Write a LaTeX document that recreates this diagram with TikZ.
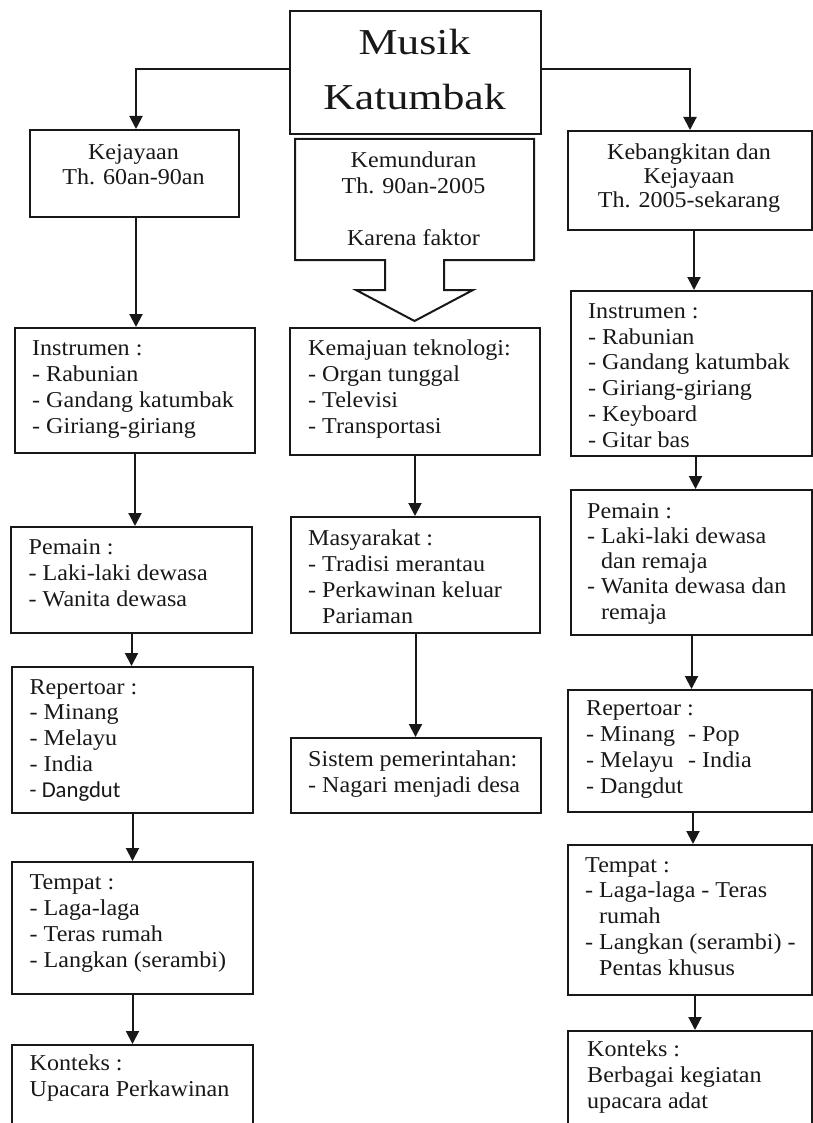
\documentclass[tikz,border=0pt]{standalone}
\usepackage{fontspec}
\setmainfont{Liberation Serif}[FakeStretch=1.06]
\newfontfamily\titlefont{Liberation Serif}[FakeStretch=1.2]
\newfontfamily\califont{Carlito}
\usetikzlibrary{arrows.meta}
\definecolor{ink}{RGB}{24,24,24}
\newcommand\bodysize{\fontsize{22.7}{25.7}\selectfont}
\newcommand\subindent{\hspace*{14pt}}
\newcommand\tabcol[1]{\makebox[102pt][l]{#1}}
\tikzset{>={Triangle[length=13pt,width=13pt]}}

\begin{document}
\begin{tikzpicture}[x=1pt,y=-1pt,
  boxframe/.style={draw=ink,line width=2pt,anchor=north west,inner sep=0pt},
  body/.style={ink,font=\bodysize,align=left,anchor=base west,inner sep=0pt},
  heading/.style={ink,font=\bodysize,align=center,anchor=base,inner sep=0pt},
  link/.style={->,draw=ink,line width=2pt}]
  \useasboundingbox (0,0) rectangle (812,1123);
  % text nodes are placed at the baseline of their last line

  % Title
  \node[boxframe,minimum width=251pt,minimum height=123pt] (musik) at (289,10) {};
  \node[heading,font=\titlefont\fontsize{36.5}{55}\selectfont] (musikt)
    at (414.5,110) {Musik\\Katumbak};

  % Three periods
  \node[boxframe,minimum width=209pt,minimum height=87pt] (kejayaan) at (29,129) {};
  \node[heading] (kejayaant) at (133.5,185) {Kejayaan\\Th. 60an-90an};

  \node[boxframe,draw=none,minimum width=237pt,minimum height=119pt] (kemunduran) at (295,139) {};
  \node[heading] (kemundurant) at (413.5,245)
    {Kemunduran\\Th. 90an-2005\\[25.7pt]Karena faktor};
  \draw[ink,line width=2pt,line join=miter]
    (kemunduran.south west) |- (kemunduran.north east)
    |- ([xshift=29.5pt]kemunduran.south) -- ++(0,30) -- ++(29,0)
    -- ++(-58.5,31) -- ++(-58.5,-31) -- ++(29,0) -- ++(0,-30) -- cycle;

  \node[boxframe,minimum width=244pt,minimum height=99pt] (kebangkitan) at (567,130) {};
  \node[heading,font=\fontsize{22.7}{24}\selectfont] (kebangkitant) at (689,208)
    {Kebangkitan dan\\Kejayaan\\Th. 2005-sekarang};

  \draw[link] ([yshift=3.5pt]musik.west) -| ([xshift=1.5pt]kejayaan.north);
  \draw[link] ([yshift=3.5pt]musik.east) -| (kebangkitan.north);

  % Left column
  \node[boxframe,minimum width=240pt,minimum height=125pt] (instrL) at (14,327) {};
  \node[body] (instrLt) at (32,433)
    {Instrumen :\\- Rabunian\\- Gandang katumbak\\- Giriang-giriang};
  \node[boxframe,minimum width=241pt,minimum height=106pt] (pemainL) at (10,526) {};
  \node[body] (pemainLt) at (28.5,606)
    {Pemain :\\- Laki-laki dewasa\\- Wanita dewasa};
  \node[boxframe,minimum width=241pt,minimum height=146pt] (repL) at (11,666) {};
  \node[body] (repLt) at (29.5,797)
    {Repertoar :\\- Minang\\- Melayu\\- India\\{\califont - Dangdut}};
  \node[boxframe,minimum width=241pt,minimum height=132pt] (tempatL) at (11,861) {};
  \node[body] (tempatLt) at (29.5,967)
    {Tempat :\\- Laga-laga\\- Teras rumah\\- Langkan (serambi)};
  \node[boxframe,minimum width=241pt,minimum height=100pt] (kontL) at (11,1044) {};
  \node[body] (kontLt) at (29.5,1096) {Konteks :\\Upacara Perkawinan};

  \draw[link] ([xshift=1.5pt]kejayaan.south) -- ([xshift=1.5pt]kejayaan.south |- instrL.north);
  \draw[link] (instrL.south) -- (instrL.south |- pemainL.north);
  \draw[link] (pemainL.south) -- (pemainL.south |- repL.north);
  \draw[link] (repL.south) -- (repL.south |- tempatL.north);
  \draw[link] (tempatL.south) -- (tempatL.south |- kontL.north);

  % Middle column
  \node[boxframe,minimum width=250pt,minimum height=127pt] (kemajuan) at (289,327) {};
  \node[body] (kemajuant) at (308,433)
    {Kemajuan teknologi:\\- Organ tunggal\\- Televisi\\- Transportasi};
  \node[boxframe,minimum width=249pt,minimum height=116pt] (masyarakat) at (290,516) {};
  \node[body] (masyarakatt) at (308,623)
    {Masyarakat :\\- Tradisi merantau\\- Perkawinan keluar\\\subindent Pariaman};
  \node[boxframe,minimum width=250pt,minimum height=75pt] (sistem) at (290,737) {};
  \node[body] (sistemt) at (308,792)
    {Sistem pemerintahan:\\- Nagari menjadi desa};

  \draw[link] (kemajuan.south) -- (kemajuan.south |- masyarakat.north);
  \draw[link] (masyarakat.south) -- (masyarakat.south |- sistem.north);

  % Right column
  \node[boxframe,minimum width=241pt,minimum height=165pt] (instrR) at (570,290) {};
  \node[body] (instrRt) at (588,447)
    {Instrumen :\\- Rabunian\\- Gandang katumbak\\- Giriang-giriang\\- Keyboard\\- Gitar bas};
  \node[boxframe,minimum width=241pt,minimum height=145pt] (pemainR) at (570,489) {};
  \node[body,font=\fontsize{22.7}{25.1}\selectfont] (pemainRt) at (587,619)
    {Pemain :\\- Laki-laki dewasa\\\subindent dan remaja\\- Wanita dewasa dan\\\subindent remaja};
  \node[boxframe,minimum width=244pt,minimum height=122pt] (repR) at (567,689) {};
  \node[body] (repRt) at (586,793)
    {Repertoar :\\\tabcol{- Minang}- Pop\\\tabcol{- Melayu}- India\\- Dangdut};
  \node[boxframe,minimum width=244pt,minimum height=150pt] (tempatR) at (567,844) {};
  \node[body] (tempatRt) at (585,975)
    {Tempat :\\- Laga-laga - Teras\\\subindent rumah\\- Langkan (serambi) -\\\subindent Pentas khusus};
  \node[boxframe,minimum width=244pt,minimum height=110pt] (kontR) at (567,1030) {};
  \node[body] (kontRt) at (587,1108)
    {Konteks :\\Berbagai kegiatan\\upacara adat};

  \draw[link] ([xshift=4pt]kebangkitan.south) -- ([xshift=4pt]kebangkitan.south |- instrR.north);
  \draw[link] ([xshift=4pt]instrR.south) -- ([xshift=4pt]instrR.south |- pemainR.north);
  \draw[link] (pemainR.south) -- (pemainR.south |- repR.north);
  \draw[link] ([xshift=3pt]repR.south) -- ([xshift=3pt]repR.south |- tempatR.north);
  \draw[link] ([xshift=5pt]tempatR.south) -- ([xshift=5pt]tempatR.south |- kontR.north);
\end{tikzpicture}
\end{document}
